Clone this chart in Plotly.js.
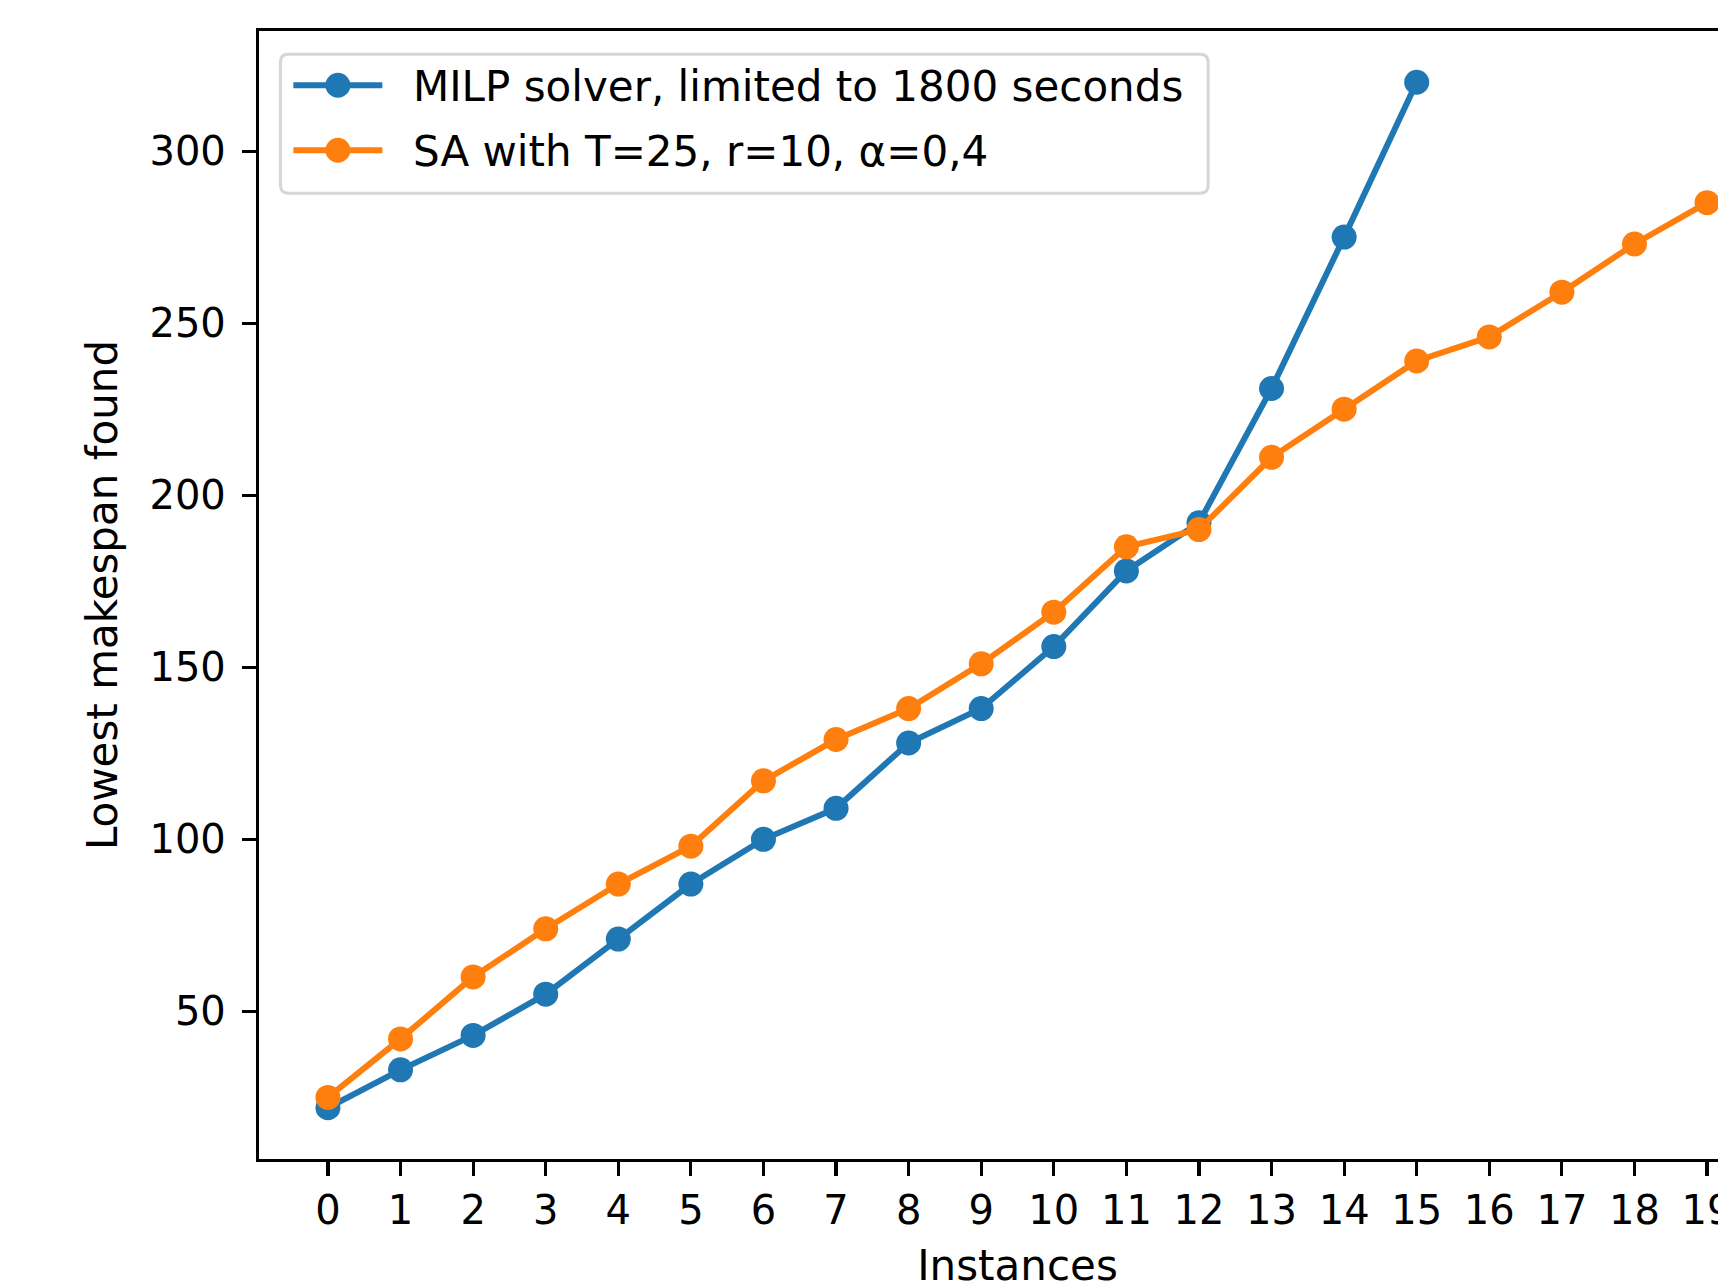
<!DOCTYPE html>
<html>
<head>
<meta charset="utf-8">
<script src="https://cdn.plot.ly/plotly-3.0.1.min.js"></script>
<style>
html, body { margin: 0; padding: 0; overflow: hidden; background: #fff; }
#chart { width: 1900px; height: 1320px; }
</style>
</head>
<body>
<div id="chart"></div>
<script>
// Data
const instances = [0,1,2,3,4,5,6,7,8,9,10,11,12,13,14,15,16,17,18,19];
const milpMakespan = [22,33,43,55,71,87,100,109,128,138,156,178,192,231,275,320,null,null,null,null];
const saMakespan = [25,42,60,74,87,98,117,129,138,151,166,185,190,211,225,239,246,259,273,285];
const seriesNames = ["MILP solver, limited to 1800 seconds", "SA with T=25, r=10, \u03b1=0,4"];
const seriesColors = ["#1f77b4", "#ff7f0e"];
const yTicks = [50,100,150,200,250,300];

const FONT = "DejaVu Sans";
const W = 1900, H = 1320;
const L = 258.6, R = 1776, T = 30.7, B = 1159.3;   // plot-area edges in pixels
const pw = R - L, ph = B - T;
const px = v => (v - L) / pw;          // pixel x -> paper x
const py = v => (B - v) / ph;          // pixel y -> paper y

const traces = [
  {
    x: instances, y: milpMakespan, name: seriesNames[0],
    type: "scatter", mode: "lines+markers",
    line: { color: seriesColors[0], width: 6 },
    marker: { color: seriesColors[0], size: 25, line: { width: 0 } },
    connectgaps: false, showlegend: false
  },
  {
    x: instances, y: saMakespan, name: seriesNames[1],
    type: "scatter", mode: "lines+markers",
    line: { color: seriesColors[1], width: 6 },
    marker: { color: seriesColors[1], size: 25, line: { width: 0 } },
    showlegend: false
  }
];

// Legend box (matplotlib-style, rounded frame) built as layout decoration
const bx0 = 280, bx1 = 1208, by0 = 54, by1 = 193, rad = 8;
function roundRect(x0, y0, x1, y1, r) {
  const X = px, Y = py;
  return "M" + X(x0 + r) + "," + Y(y0) +
    " L" + X(x1 - r) + "," + Y(y0) +
    " Q" + X(x1) + "," + Y(y0) + " " + X(x1) + "," + Y(y0 + r) +
    " L" + X(x1) + "," + Y(y1 - r) +
    " Q" + X(x1) + "," + Y(y1) + " " + X(x1 - r) + "," + Y(y1) +
    " L" + X(x0 + r) + "," + Y(y1) +
    " Q" + X(x0) + "," + Y(y1) + " " + X(x0) + "," + Y(y1 - r) +
    " L" + X(x0) + "," + Y(y0 + r) +
    " Q" + X(x0) + "," + Y(y0) + " " + X(x0 + r) + "," + Y(y0) + " Z";
}
const shapes = [{
  type: "path", xref: "paper", yref: "paper", layer: "above",
  path: roundRect(bx0, by0, bx1, by1, rad),
  fillcolor: "rgba(255,255,255,0.8)", line: { color: "#d6d6d6", width: 3 }
}];
const annotations = [];
const rowY = [85, 150];
const mr = 12.5;
seriesNames.forEach((nm, i) => {
  const c = seriesColors[i], yy = rowY[i];
  shapes.push({ type: "line", xref: "paper", yref: "paper", layer: "above",
    x0: px(293), x1: px(382), y0: py(yy), y1: py(yy), line: { color: c, width: 6 } });
  shapes.push({ type: "circle", xref: "paper", yref: "paper", layer: "above",
    x0: px(337.5 - mr), x1: px(337.5 + mr), y0: py(yy - mr), y1: py(yy + mr),
    fillcolor: c, line: { width: 0 } });
  annotations.push({ xref: "paper", yref: "paper", x: px(411), y: py(yy + 1),
    xanchor: "left", yanchor: "middle", showarrow: false, text: nm,
    font: { family: FONT, size: 42, color: "#000000" } });
});

const layout = {
  width: W, height: H,
  paper_bgcolor: "#ffffff", plot_bgcolor: "#ffffff",
  font: { family: FONT, size: 40, color: "#000000" },
  margin: { l: L, r: W - R, t: T, b: H - B, pad: 0 },
  showlegend: false,
  shapes: shapes,
  annotations: annotations,
  xaxis: {
    range: [-0.95, 19.95], tickmode: "array", tickvals: instances, ticktext: instances.map(String),
    showgrid: false, zeroline: false,
    showline: true, mirror: true, linecolor: "#000000", linewidth: 3.2,
    ticks: "outside", ticklen: 14, tickwidth: 3.2, tickcolor: "#000000",
    tickfont: { family: FONT, size: 40, color: "#000000" },
    title: { text: "Instances", font: { family: FONT, size: 42, color: "#000000" }, standoff: 19 },
    automargin: false
  },
  yaxis: {
    range: [7.1, 334.9], tickmode: "array", tickvals: yTicks, ticktext: yTicks.map(String),
    showgrid: false, zeroline: false,
    showline: true, mirror: true, linecolor: "#000000", linewidth: 3.2,
    ticklabelstandoff: 8,
    ticks: "outside", ticklen: 14, tickwidth: 3.2, tickcolor: "#000000",
    tickfont: { family: FONT, size: 40, color: "#000000" },
    title: { text: "Lowest makespan found", font: { family: FONT, size: 42, color: "#000000" }, standoff: 19 },
    automargin: false
  }
};

Plotly.newPlot("chart", traces, layout, { displayModeBar: false, staticPlot: true });
</script>
</body>
</html>
